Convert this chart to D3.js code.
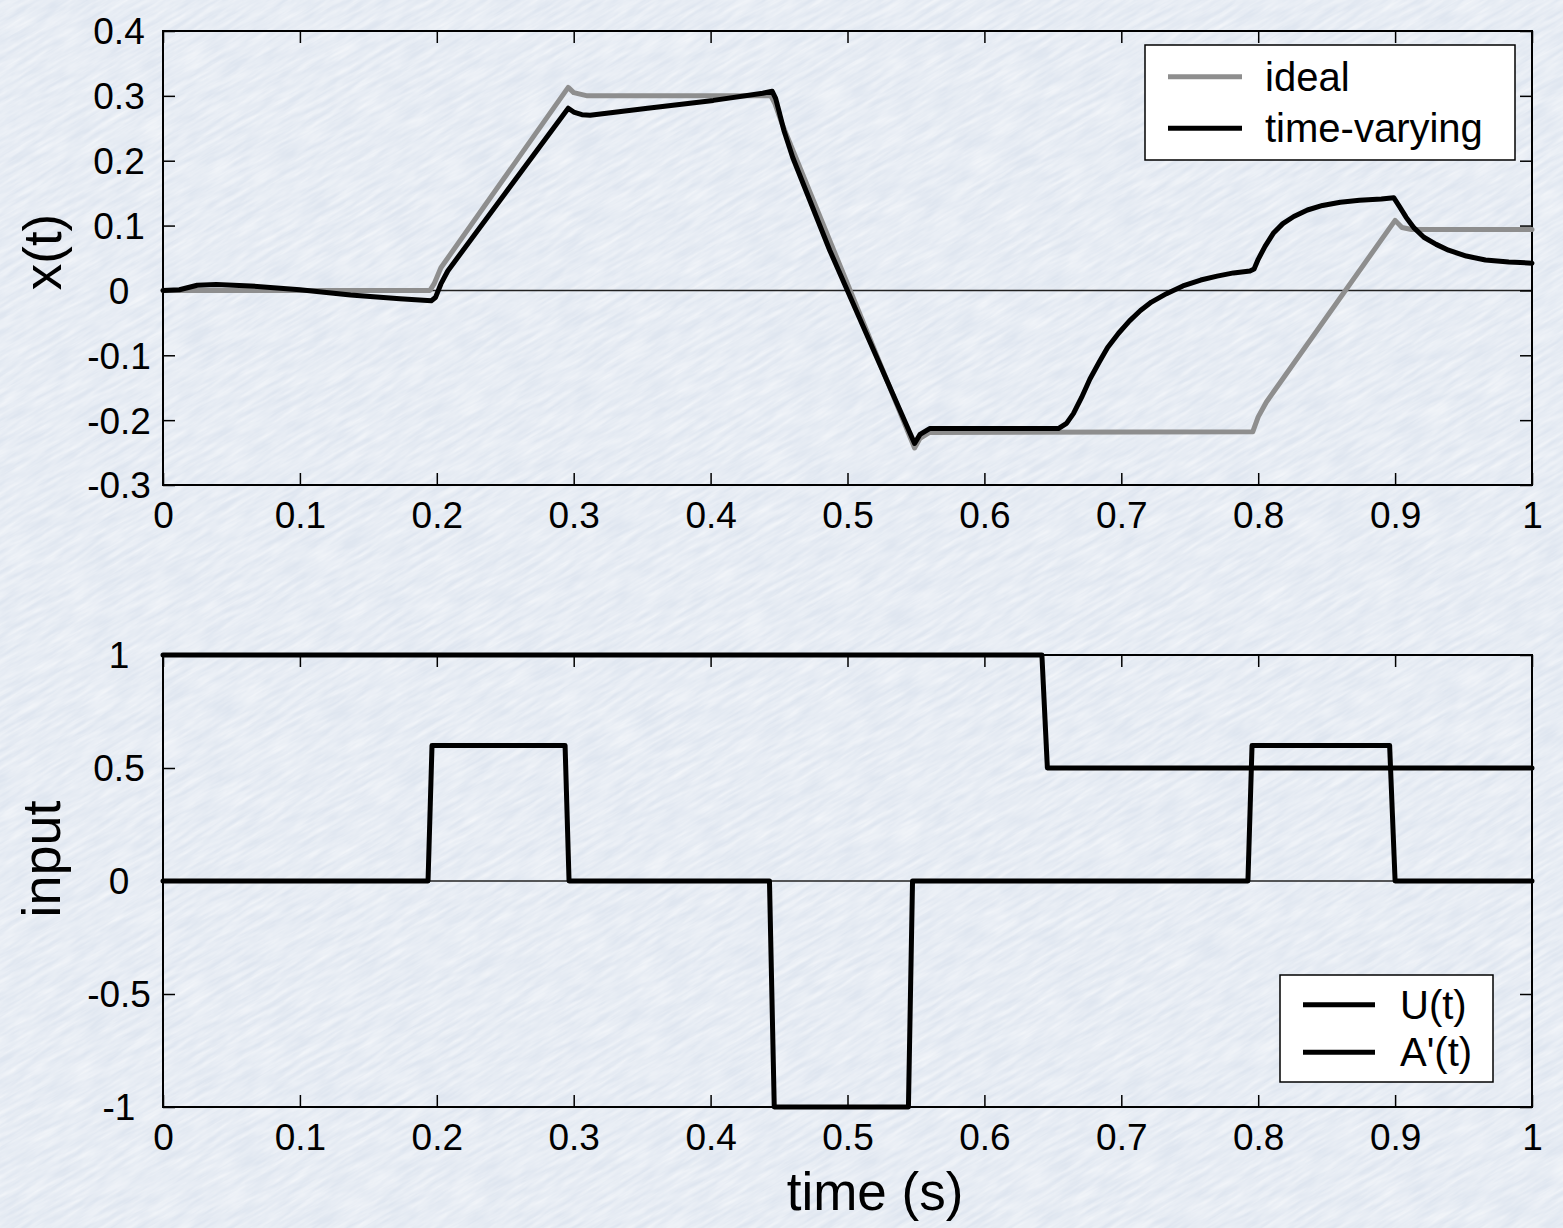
<!DOCTYPE html>
<html>
<head>
<meta charset="utf-8">
<script src="https://cdn.jsdelivr.net/npm/d3@7"></script>
<style>
  body { margin: 0; background: #e3e9f1; }
  text { font-family: 'Liberation Sans', Arial, Helvetica, sans-serif; fill: #000; }
</style>
</head>
<body>
<div id="chart"></div>
<script>
// time ticks shared by both panels
const xTicks = [0, 0.1, 0.2, 0.3, 0.4, 0.5, 0.6, 0.7, 0.8, 0.9, 1];
const xTickLabels = ['0', '0.1', '0.2', '0.3', '0.4', '0.5', '0.6', '0.7', '0.8', '0.9', '1'];

// top panel: x(t)
const stateTicks = [-0.3, -0.2, -0.1, 0, 0.1, 0.2, 0.3, 0.4];
const stateTickLabels = ['-0.3', '-0.2', '-0.1', '0', '0.1', '0.2', '0.3', '0.4'];

const ideal = [
  [0, 0], [0.195, 0], [0.198, 0.01], [0.203, 0.035], [0.296, 0.313], [0.300, 0.305],
  [0.310, 0.300], [0.444, 0.300], [0.447, 0.288], [0.452, 0.258], [0.549, -0.243],
  [0.553, -0.228], [0.560, -0.219], [0.796, -0.218], [0.800, -0.195], [0.806, -0.172],
  [0.900, 0.108], [0.905, 0.097], [0.912, 0.094], [1, 0.094]
];

const timeVarying = [
  [0, 0], [0.012, 0.001], [0.025, 0.008], [0.039, 0.009], [0.064, 0.007], [0.1, 0.001],
  [0.137, -0.007], [0.173, -0.013], [0.196, -0.016], [0.199, -0.011], [0.203, 0.010],
  [0.208, 0.030], [0.250, 0.150], [0.296, 0.281], [0.300, 0.275],
  [0.306, 0.271], [0.312, 0.270], [0.354, 0.281], [0.402, 0.293], [0.438, 0.304],
  [0.445, 0.307], [0.4475, 0.296], [0.450, 0.276], [0.4535, 0.247], [0.460, 0.205],
  [0.487, 0.062], [0.549, -0.236],
  [0.553, -0.222], [0.560, -0.213], [0.654, -0.213], [0.660, -0.205], [0.665, -0.190],
  [0.671, -0.165], [0.677, -0.137], [0.684, -0.110], [0.690, -0.088], [0.698, -0.066],
  [0.706, -0.047], [0.714, -0.031], [0.722, -0.018], [0.733, -0.005], [0.745, 0.007],
  [0.758, 0.016], [0.770, 0.022], [0.782, 0.027], [0.794, 0.030], [0.797, 0.033],
  [0.800, 0.048], [0.805, 0.068], [0.811, 0.088], [0.818, 0.103], [0.826, 0.114],
  [0.836, 0.124], [0.847, 0.131], [0.860, 0.136], [0.874, 0.139], [0.890, 0.141],
  [0.899, 0.143], [0.903, 0.130], [0.908, 0.113], [0.914, 0.096], [0.921, 0.082],
  [0.930, 0.071], [0.939, 0.062], [0.952, 0.053], [0.966, 0.047], [0.983, 0.044], [1, 0.042]
];

// bottom panel: inputs
const inputTicks = [-1, -0.5, 0, 0.5, 1];
const inputTickLabels = ['-1', '-0.5', '0', '0.5', '1'];

const uInput = [[0, 1], [0.642, 1], [0.646, 0.5], [1, 0.5]];

const aPrime = [
  [0, 0], [0.1936, 0], [0.1965, 0.6], [0.2937, 0.6], [0.2966, 0],
  [0.443, 0], [0.4465, -1], [0.5445, -1], [0.5475, 0],
  [0.7925, 0], [0.7955, 0.6], [0.896, 0.6], [0.900, 0], [1, 0]
];

const width = 1563, height = 1228;
const left = 163, right = 1532;

const svg = d3.select('#chart').append('svg')
  .attr('width', width)
  .attr('height', height);

// paper texture
const defs = svg.append('defs');
const paper = defs.append('filter')
  .attr('id', 'paper')
  .attr('filterUnits', 'userSpaceOnUse')
  .attr('x', -700).attr('y', -700).attr('width', 3000).attr('height', 2700);
paper.append('feTurbulence')
  .attr('type', 'fractalNoise')
  .attr('baseFrequency', '0.03 0.22')
  .attr('numOctaves', 4)
  .attr('seed', 11)
  .attr('result', 'noise');
paper.append('feColorMatrix')
  .attr('in', 'noise')
  .attr('type', 'matrix')
  .attr('values', '0 0 0 0 1  0 0 0 0 1  0 0 0 0 1  0.9 0 0 0 -0.2');

svg.append('rect').attr('width', width).attr('height', height).attr('fill', '#dfe6f0');
svg.append('g')
  .attr('transform', 'rotate(-30 781 614)')
  .append('rect')
  .attr('x', -700).attr('y', -700).attr('width', 3000).attr('height', 2700)
  .attr('filter', 'url(#paper)');

const x = d3.scaleLinear().domain([0, 1]).range([left, right]);

function styleAxis(g) {
  g.select('.domain').remove();
  g.selectAll('.tick line').attr('stroke', '#000').attr('stroke-width', 1.5);
  g.selectAll('text').attr('font-size', 37).attr('font-family', null);
}

function drawPanel(top, bottom, yDomain, yTicks, yLabels) {
  const y = d3.scaleLinear().domain(yDomain).range([bottom, top]);
  const g = svg.append('g');

  g.append('line')
    .attr('x1', x(0)).attr('x2', x(1))
    .attr('y1', y(0)).attr('y2', y(0))
    .attr('stroke', '#222').attr('stroke-width', 1.5);

  g.append('g')
    .attr('transform', `translate(0,${bottom})`)
    .call(d3.axisBottom(x).tickValues(xTicks).tickFormat((d, i) => xTickLabels[i]).tickSize(-12).tickPadding(17))
    .call(styleAxis);

  g.append('g')
    .attr('transform', `translate(0,${top})`)
    .call(d3.axisTop(x).tickValues(xTicks).tickFormat('').tickSize(-12))
    .call(styleAxis);

  g.append('g')
    .attr('transform', `translate(${left},0)`)
    .call(d3.axisLeft(y).tickValues(yTicks).tickFormat((d, i) => yLabels[i]).tickSize(-12))
    .call(styleAxis)
    .call(a => a.selectAll('text').attr('text-anchor', 'middle').attr('x', -44).attr('dy', '0.35em'));

  g.append('g')
    .attr('transform', `translate(${right},0)`)
    .call(d3.axisRight(y).tickValues(yTicks).tickFormat('').tickSize(-12))
    .call(styleAxis);

  g.append('rect')
    .attr('x', left).attr('y', top)
    .attr('width', right - left).attr('height', bottom - top)
    .attr('fill', 'none').attr('stroke', '#000').attr('stroke-width', 2);

  return { g, y };
}

function drawLine(p, data, color) {
  const line = d3.line().x(d => x(d[0])).y(d => p.y(d[1]));
  p.g.append('path')
    .datum(data)
    .attr('d', line)
    .attr('fill', 'none')
    .attr('stroke', color)
    .attr('stroke-width', 5)
    .attr('stroke-linejoin', 'round')
    .attr('stroke-linecap', 'round');
}

function drawLegend(bx, by, bw, bh, items) {
  const lg = svg.append('g');
  lg.append('rect')
    .attr('x', bx).attr('y', by).attr('width', bw).attr('height', bh)
    .attr('fill', '#fff').attr('stroke', '#000').attr('stroke-width', 1.5);
  items.forEach((it, i) => {
    const cy = by + bh * (i + 0.5) / items.length + (i === 0 ? 3 : -3);
    lg.append('line')
      .attr('x1', bx + it.lineStart).attr('x2', bx + it.lineEnd)
      .attr('y1', cy).attr('y2', cy)
      .attr('stroke', it.color).attr('stroke-width', 5);
    lg.append('text')
      .attr('x', bx + it.textStart).attr('y', cy)
      .attr('dy', '0.35em')
      .attr('font-size', 40)
      .text(it.name);
  });
}

// top panel
const topPanel = drawPanel(31, 485, [-0.3, 0.4], stateTicks, stateTickLabels);
drawLine(topPanel, ideal, '#8e8e8e');
drawLine(topPanel, timeVarying, '#000');

svg.append('text')
  .attr('transform', 'translate(61,252) rotate(-90)')
  .attr('text-anchor', 'middle')
  .attr('font-size', 53)
  .text('x(t)');

drawLegend(1145, 45, 370, 115, [
  { name: 'ideal', color: '#8e8e8e', lineStart: 23, lineEnd: 97, textStart: 120 },
  { name: 'time-varying', color: '#000', lineStart: 23, lineEnd: 97, textStart: 120 }
]);

// bottom panel
const bottomPanel = drawPanel(655, 1107, [-1, 1], inputTicks, inputTickLabels);
drawLine(bottomPanel, uInput, '#000');
drawLine(bottomPanel, aPrime, '#000');

svg.append('text')
  .attr('transform', 'translate(60,859) rotate(-90)')
  .attr('text-anchor', 'middle')
  .attr('font-size', 54)
  .text('input');

svg.append('text')
  .attr('x', 875).attr('y', 1210)
  .attr('text-anchor', 'middle')
  .attr('font-size', 53)
  .text('time (s)');

drawLegend(1280, 975, 213, 107, [
  { name: 'U(t)', color: '#000', lineStart: 23, lineEnd: 95, textStart: 120 },
  { name: "A'(t)", color: '#000', lineStart: 23, lineEnd: 95, textStart: 120 }
]);
</script>
</body>
</html>
